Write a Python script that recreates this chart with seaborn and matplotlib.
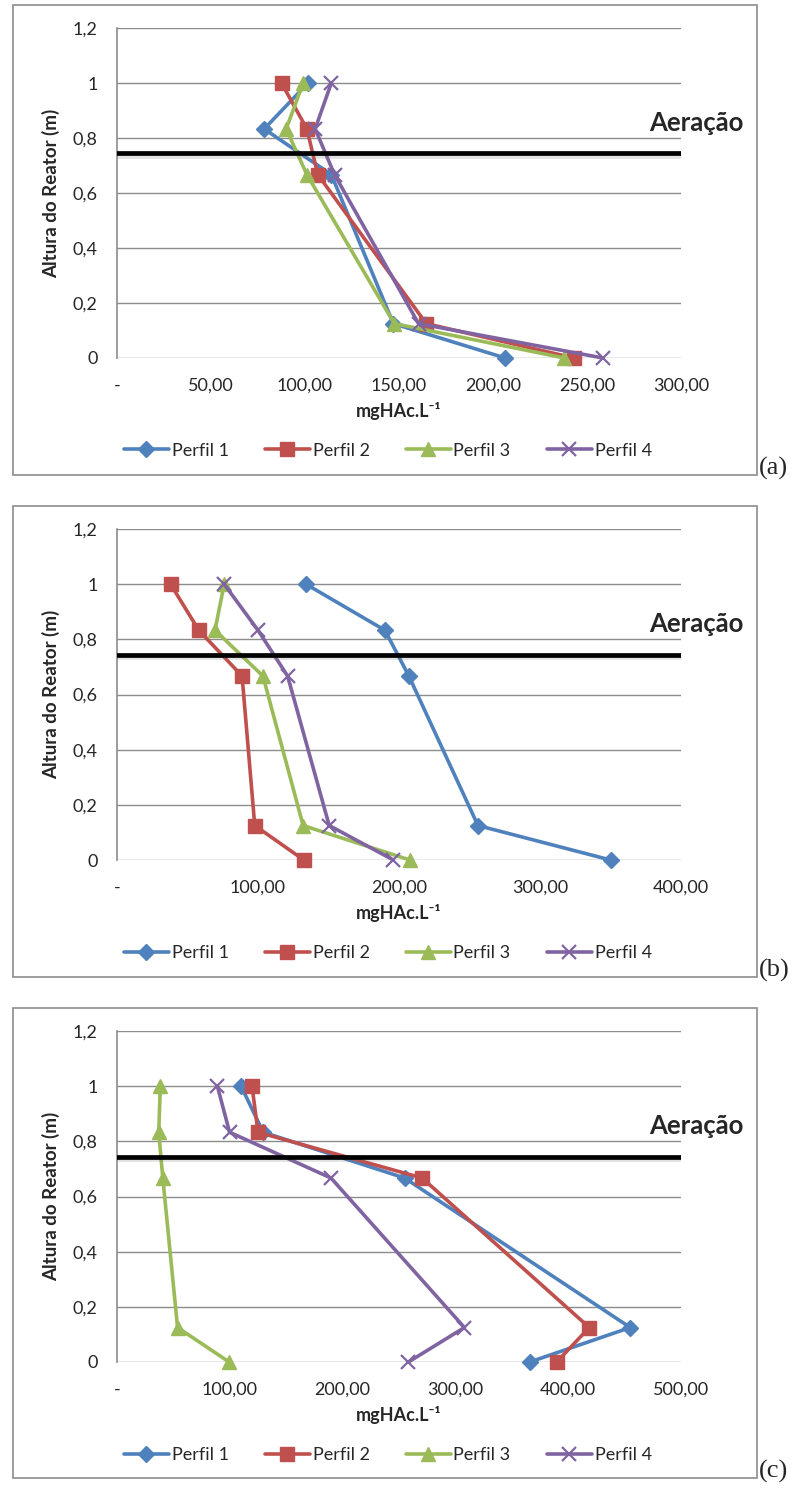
import matplotlib
matplotlib.use('Agg')
from matplotlib import pyplot as plt
from matplotlib.patches import Rectangle
import matplotlib.patheffects as pe
import matplotlib.transforms as mtransforms
import numpy as np
import pandas as pd
import seaborn as sns

# alturas de amostragem (m)
heights = [1.0, 0.833, 0.667, 0.125, 0.0]
profiles = ['Perfil 1', 'Perfil 2', 'Perfil 3', 'Perfil 4']

# (a)
a_p1 = [101.6, 78.3, 114.0, 147.0, 206.5]
a_p2 = [87.5, 101.0, 106.8, 164.5, 243.0]
a_p3 = [99.0, 90.0, 101.0, 147.5, 238.0]
a_p4 = [114.0, 105.4, 115.7, 160.4, 258.5]

# (b)
b_p1 = [134.0, 190.0, 207.0, 256.0, 350.0]
b_p2 = [38.0, 58.0, 88.7, 97.7, 132.5]
b_p3 = [76.0, 69.5, 103.5, 132.0, 207.7]
b_p4 = [76.0, 100.0, 121.0, 150.5, 196.0]

# (c)
c_p1 = [110.0, 129.6, 255.0, 455.0, 366.0]
c_p2 = [119.7, 125.0, 270.5, 418.7, 389.8]
c_p3 = [38.4, 37.0, 40.6, 53.7, 99.4]
c_p4 = [89.0, 99.8, 189.7, 308.0, 258.4]

a_xticks = [0, 50, 100, 150, 200, 250, 300]
b_xticks = [0, 100, 200, 300, 400]
c_xticks = [0, 100, 200, 300, 400, 500]
yticks = [0, 0.2, 0.4, 0.6, 0.8, 1.0, 1.2]
ytick_labels = ['0', '0,2', '0,4', '0,6', '0,8', '1', '1,2']

aeration_h = 0.745

colors = {'Perfil 1': '#4F81BD', 'Perfil 2': '#C0504D',
          'Perfil 3': '#9BBB59', 'Perfil 4': '#8064A2'}
markers = {'Perfil 1': 'D', 'Perfil 2': 's', 'Perfil 3': '^', 'Perfil 4': 'x'}
msizes = {'Perfil 1': 8.5, 'Perfil 2': 10, 'Perfil 3': 10, 'Perfil 4': 10}

sns.set_style('white')
plt.rcParams['font.family'] = ['Lato', 'DejaVu Sans']

W, H = 797, 1488
fig = plt.figure(figsize=(W / 100, H / 100), dpi=100)

panels = [
    ('(a)', [a_p1, a_p2, a_p3, a_p4], a_xticks, 28, 358, 5, 475),
    ('(b)', [b_p1, b_p2, b_p3, b_p4], b_xticks, 529, 860, 506, 977),
    ('(c)', [c_p1, c_p2, c_p3, c_p4], c_xticks, 1031, 1362, 1008, 1478),
]

def fmt_x(v):
    if v == 0:
        return '-'
    return f'{v:.2f}'.replace('.', ',')

for tag, series, xticks, ytop, ybot, ftop, fbot in panels:
    # moldura de cada grafico
    fig.add_artist(Rectangle((13 / W, 1 - fbot / H), (757 - 13) / W, (fbot - ftop) / H,
                             transform=fig.transFigure, fill=False,
                             edgecolor='#8c8c8c', lw=1.2))
    fig.text(759 / W, 1 - (fbot + 5) / H, tag, family='Liberation Serif',
             fontsize=19, ha='left', va='bottom')

    ax = fig.add_axes([117 / W, 1 - ybot / H, (681 - 117) / W, (ybot - ytop) / H])

    rows = []
    for name, vals in zip(profiles, series):
        for h, v in zip(heights, vals):
            rows.append({'Perfil': name, 'x': v, 'h': h})
    df = pd.DataFrame(rows)

    for name in profiles:
        sub = df[df['Perfil'] == name]
        mk = markers[name]
        sns.lineplot(data=sub, x='x', y='h', sort=False, estimator=None,
                     color=colors[name], marker=mk, lw=2.6,
                     markersize=msizes[name],
                     markeredgewidth=1.0 if mk != 'x' else 1.6,
                     markeredgecolor=colors[name], label=name,
                     clip_on=False, ax=ax, zorder=3)

    ax.axhline(aeration_h, color='black', lw=3.4, zorder=4,
               path_effects=[pe.SimpleLineShadow(offset=(0, -2), shadow_color='#777777', alpha=0.22),
                             pe.Normal()])
    trans = mtransforms.blended_transform_factory(ax.transAxes, ax.transData)
    ax.text(0.943, 0.854, 'Aeração', transform=trans, fontsize=18.5,
            fontweight='bold', ha='left', va='center', clip_on=False)

    ax.set_xlim(xticks[0], xticks[-1])
    ax.set_ylim(0, 1.2)
    ax.set_xticks(xticks)
    ax.set_xticklabels([fmt_x(v) for v in xticks], fontsize=13)
    ax.set_yticks(yticks)
    ax.set_yticklabels(ytick_labels, fontsize=13)
    ax.tick_params(axis='both', length=0)
    ax.tick_params(axis='y', pad=14)
    ax.tick_params(axis='x', pad=14)
    ax.yaxis.grid(True, color='#8c8c8c', lw=1.0)
    ax.xaxis.grid(False)
    ax.set_axisbelow(True)
    for s in ['top', 'right', 'bottom']:
        ax.spines[s].set_visible(False)
    ax.spines['left'].set_color('#8c8c8c')
    ax.spines['left'].set_linewidth(1.2)

    ax.set_xlabel('mgHAc.L⁻¹', fontsize=13, fontweight='bold', labelpad=6)
    ax.set_ylabel('Altura do Reator (m)', fontsize=13.5, fontweight='bold', labelpad=9)

    ax.legend(loc='upper center', bbox_to_anchor=(0.48, -0.235), ncol=4, frameon=False,
              fontsize=13, handlelength=2.5, handletextpad=0.15, columnspacing=2.0,
              borderaxespad=0)

fig.savefig('out.png', dpi=100)
